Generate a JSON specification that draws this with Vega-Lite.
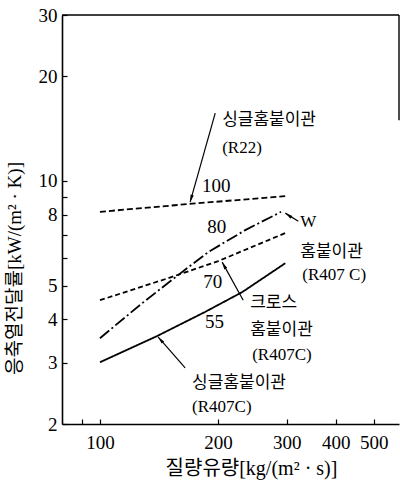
{
  "$schema": "https://vega.github.io/schema/vega-lite/v6.json",
  "width": 337,
  "height": 409,
  "autosize": "none",
  "padding": {"left": 62, "top": 15, "right": 1, "bottom": 61},
  "background": "white",
  "config": {
    "view": {"stroke": null},
    "font": "Liberation Serif, Noto Sans CJK KR",
    "axis": {
      "grid": false,
      "domainColor": "#000",
      "domainWidth": 1.6,
      "tickColor": "#000",
      "tickWidth": 1.2,
      "labelColor": "#000",
      "titleColor": "#000",
      "labelFont": "Liberation Serif",
      "labelFontSize": 19,
      "titleFont": "Liberation Serif, Noto Sans CJK KR",
      "titleFontWeight": "normal",
      "titleFontSize": 19
    }
  },
  "datasets": {
    "lines": [
      {"series": "R22", "G": 100, "h": 8.15},
      {"series": "R22", "G": 172, "h": 8.6},
      {"series": "R22", "G": 297, "h": 9.04},
      {"series": "W", "G": 100, "h": 3.53},
      {"series": "W", "G": 126.6, "h": 4.4},
      {"series": "W", "G": 158.3, "h": 5.36},
      {"series": "W", "G": 188.9, "h": 6.24},
      {"series": "W", "G": 234.9, "h": 7.22},
      {"series": "W", "G": 290, "h": 8.15},
      {"series": "cross", "G": 100, "h": 4.54},
      {"series": "cross", "G": 149.2, "h": 5.25},
      {"series": "cross", "G": 200.4, "h": 5.88},
      {"series": "cross", "G": 297.3, "h": 7.08},
      {"series": "single", "G": 100, "h": 3.01},
      {"series": "single", "G": 139.9, "h": 3.58},
      {"series": "single", "G": 185.5, "h": 4.2},
      {"series": "single", "G": 230.8, "h": 4.79},
      {"series": "single", "G": 297.3, "h": 5.8}
    ],
    "labels": [
      {"G": 205.1, "h": 14.95, "text": "싱글홈붙이관"},
      {"G": 205.1, "h": 12.42, "text": "(R22)"},
      {"G": 324.7, "h": 7.61, "text": "W"},
      {"G": 324.7, "h": 6.24, "text": "홈붙이관"},
      {"G": 328.5, "h": 5.36, "text": "(R407 C)"},
      {"G": 241.9, "h": 4.45, "text": "크로스"},
      {"G": 241.9, "h": 3.72, "text": "홈붙이관"},
      {"G": 244.7, "h": 3.16, "text": "(R407C)"},
      {"G": 171.9, "h": 2.62, "text": "싱글홈붙이관"},
      {"G": 171.9, "h": 2.24, "text": "(R407C)"}
    ],
    "numbers": [
      {"G": 182.3, "h": 9.66, "text": "100"},
      {"G": 187.8, "h": 7.36, "text": "80"},
      {"G": 183.4, "h": 5.12, "text": "70"},
      {"G": 185.5, "h": 3.93, "text": "55"}
    ],
    "arrows": [
      {"name": "R22", "G": 196.9, "h": 15.66, "G2": 169.9, "h2": 8.69},
      {"name": "W", "G": 320.9, "h": 7.66, "G2": 297.3, "h2": 8.08},
      {"name": "cross", "G": 232.1, "h": 4.54, "G2": 205.1, "h2": 5.84},
      {"name": "single", "G": 165.0, "h": 2.9, "G2": 140.7, "h2": 3.56}
    ]
  },
  "layer": [
    {
      "data": {"name": "lines"},
      "mark": {"type": "line", "color": "#000", "strokeWidth": 1.8},
      "encoding": {
        "x": {
          "field": "G",
          "type": "quantitative",
          "scale": {"type": "log", "domain": [80, 580], "nice": false, "zero": false},
          "axis": {
            "values": [90, 100, 200, 300, 400, 500],
            "format": "d",
            "labelExpr": "datum.value < 95 ? '' : datum.label",
            "tickSize": -5,
            "labelPadding": 14,
            "title": "질량유량[kg/(m² · s)]",
            "titleFontSize": 20,
            "titleX": 189,
            "titleY": 44,
            "titleAlign": "center",
            "titleBaseline": "middle"
          }
        },
        "y": {
          "field": "h",
          "type": "quantitative",
          "scale": {"type": "log", "domain": [2, 30], "nice": false, "zero": false},
          "axis": {
            "values": [2, 3, 4, 5, 6, 7, 8, 9, 10, 20, 30],
            "format": "d",
            "labelExpr": "(datum.value == 6 || datum.value == 7 || datum.value == 9) ? '' : datum.label",
            "tickSize": -5,
            "labelPadding": 10,
            "title": "응축열전달률[kW/(m² · K)]",
            "titleX": -48,
            "titleY": 253,
            "titleAngle": -90,
            "titleAlign": "center",
            "titleBaseline": "middle"
          }
        },
        "detail": {"field": "series"},
        "strokeDash": {
          "field": "series",
          "scale": {"domain": ["R22", "W", "cross", "single"], "range": [[6, 3], [12, 3, 2, 3], [5, 3], [1, 0]]},
          "legend": null
        }
      }
    },
    {
      "data": {"values": [{}]},
      "mark": {"type": "rule", "color": "#000", "strokeWidth": 1.6},
      "encoding": {"y": {"datum": 30}}
    },
    {
      "data": {"values": [{}]},
      "mark": {"type": "rule", "color": "#000", "strokeWidth": 1.4},
      "encoding": {"x": {"datum": 580}, "y": {"datum": 14.95}, "y2": {"datum": 30}}
    },
    {
      "data": {"name": "arrows"},
      "mark": {"type": "rule", "color": "#000", "strokeWidth": 1.2},
      "encoding": {
        "x": {"field": "G", "type": "quantitative"},
        "y": {"field": "h", "type": "quantitative"},
        "x2": {"field": "G2"},
        "y2": {"field": "h2"}
      }
    },
    {
      "data": {"name": "arrows"},
      "transform": [{"filter": "datum.name == 'R22'"}],
      "mark": {"type": "point", "shape": "M0,0L0.45,2L-0.45,2Z", "filled": true, "color": "#000", "opacity": 1, "size": 55, "angle": 196},
      "encoding": {"x": {"field": "G2", "type": "quantitative"}, "y": {"field": "h2", "type": "quantitative"}}
    },
    {
      "data": {"name": "arrows"},
      "transform": [{"filter": "datum.name == 'W'"}],
      "mark": {"type": "point", "shape": "M0,0L0.45,2L-0.45,2Z", "filled": true, "color": "#000", "opacity": 1, "size": 55, "angle": 305},
      "encoding": {"x": {"field": "G2", "type": "quantitative"}, "y": {"field": "h2", "type": "quantitative"}}
    },
    {
      "data": {"name": "arrows"},
      "transform": [{"filter": "datum.name == 'cross'"}],
      "mark": {"type": "point", "shape": "M0,0L0.45,2L-0.45,2Z", "filled": true, "color": "#000", "opacity": 1, "size": 55, "angle": 331},
      "encoding": {"x": {"field": "G2", "type": "quantitative"}, "y": {"field": "h2", "type": "quantitative"}}
    },
    {
      "data": {"name": "arrows"},
      "transform": [{"filter": "datum.name == 'single'"}],
      "mark": {"type": "point", "shape": "M0,0L0.45,2L-0.45,2Z", "filled": true, "color": "#000", "opacity": 1, "size": 55, "angle": 319},
      "encoding": {"x": {"field": "G2", "type": "quantitative"}, "y": {"field": "h2", "type": "quantitative"}}
    },
    {
      "data": {"name": "labels"},
      "mark": {"type": "text", "align": "left", "baseline": "middle", "fontSize": 17, "color": "#000", "font": "Liberation Serif, Noto Sans CJK KR"},
      "encoding": {
        "x": {"field": "G", "type": "quantitative"},
        "y": {"field": "h", "type": "quantitative"},
        "text": {"field": "text"}
      }
    },
    {
      "data": {"name": "numbers"},
      "mark": {"type": "text", "align": "left", "baseline": "middle", "fontSize": 19, "color": "#000", "font": "Liberation Serif"},
      "encoding": {
        "x": {"field": "G", "type": "quantitative"},
        "y": {"field": "h", "type": "quantitative"},
        "text": {"field": "text"}
      }
    }
  ]
}
